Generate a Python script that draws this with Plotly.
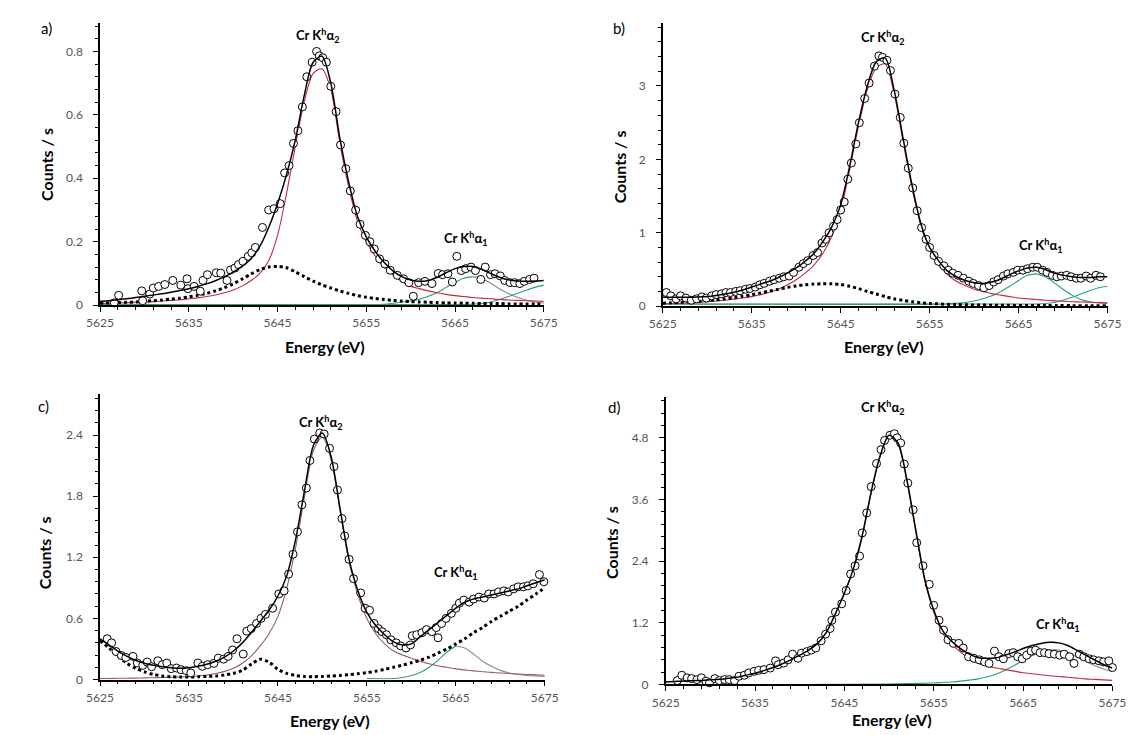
import plotly.graph_objects as go

W, H = 1134, 735
FONT = "Lato, 'Open Sans', sans-serif"

# ---------------- data: measured points (energy eV, counts/s) ----------------
a_points = [(5626.6, 0.007), (5627.1, 0.031), (5629.7, 0.045), (5629.8, 0.014), (5630.6, 0.035),
            (5631.0, 0.054), (5631.6, 0.059), (5632.3, 0.065), (5633.2, 0.078), (5634.1, 0.063),
            (5634.8, 0.083), (5634.9, 0.052), (5635.6, 0.059), (5636.3, 0.044), (5636.6, 0.078),
            (5637.1, 0.096), (5638.1, 0.102), (5638.6, 0.101), (5639.3, 0.078), (5639.7, 0.111),
            (5640.2, 0.117), (5640.6, 0.128), (5641.1, 0.138), (5641.7, 0.154), (5642.1, 0.165),
            (5642.5, 0.182), (5643.3, 0.245), (5644.0, 0.300), (5644.6, 0.304), (5645.3, 0.320),
            (5645.8, 0.417), (5646.3, 0.440), (5646.8, 0.510), (5647.3, 0.550), (5647.8, 0.625),
            (5648.3, 0.720), (5648.9, 0.766), (5649.4, 0.800), (5649.7, 0.786), (5650.1, 0.780),
            (5650.5, 0.766), (5651.0, 0.690), (5651.6, 0.610), (5652.1, 0.505), (5652.7, 0.430),
            (5653.2, 0.360), (5653.8, 0.300), (5654.3, 0.255), (5654.9, 0.220), (5655.4, 0.200),
            (5655.9, 0.177), (5656.5, 0.146), (5657.1, 0.130), (5657.7, 0.110), (5658.5, 0.094),
            (5659.2, 0.083), (5659.8, 0.071), (5660.3, 0.028), (5660.9, 0.071), (5661.6, 0.075),
            (5662.4, 0.068), (5663.1, 0.100), (5663.6, 0.096), (5664.2, 0.099), (5664.7, 0.073),
            (5665.2, 0.154), (5665.7, 0.109), (5666.2, 0.115), (5666.8, 0.120), (5667.3, 0.109),
            (5667.9, 0.081), (5668.4, 0.120), (5669.0, 0.096), (5669.5, 0.099), (5670.1, 0.092),
            (5670.6, 0.078), (5671.2, 0.071), (5671.7, 0.071), (5672.3, 0.068), (5672.8, 0.075),
            (5673.4, 0.081), (5673.9, 0.085)]

b_points = [(5625.4, 0.185), (5625.9, 0.14), (5626.5, 0.10), (5627.0, 0.14), (5627.6, 0.11),
            (5628.2, 0.08), (5628.8, 0.10), (5629.4, 0.126), (5629.9, 0.11), (5630.5, 0.14),
            (5631.0, 0.158), (5631.6, 0.167), (5632.1, 0.185), (5632.6, 0.185), (5633.2, 0.20),
            (5633.7, 0.21), (5634.3, 0.23), (5634.8, 0.24), (5635.4, 0.26), (5635.9, 0.29),
            (5636.4, 0.31), (5637.0, 0.34), (5637.5, 0.36), (5638.1, 0.38), (5638.6, 0.40),
            (5639.2, 0.41), (5639.7, 0.46), (5640.3, 0.53), (5640.8, 0.58), (5641.3, 0.62),
            (5641.9, 0.69), (5642.4, 0.73), (5642.9, 0.86), (5643.3, 0.91), (5643.7, 1.00),
            (5644.2, 1.09), (5644.6, 1.18), (5645.0, 1.31), (5645.4, 1.42), (5645.8, 1.73),
            (5646.2, 1.95), (5646.7, 2.21), (5647.1, 2.50), (5647.7, 2.83), (5648.2, 3.04),
            (5648.8, 3.27), (5649.3, 3.41), (5649.7, 3.39), (5650.2, 3.35), (5650.6, 3.21),
            (5651.1, 2.89), (5651.7, 2.57), (5652.1, 2.22), (5652.6, 1.88), (5653.1, 1.61),
            (5653.6, 1.30), (5654.1, 1.07), (5654.6, 0.91), (5655.0, 0.80), (5655.5, 0.69),
            (5656.0, 0.61), (5656.6, 0.55), (5657.1, 0.49), (5657.6, 0.45), (5658.2, 0.42),
            (5658.8, 0.38), (5659.4, 0.34), (5659.9, 0.31), (5660.5, 0.28), (5661.1, 0.25),
            (5661.7, 0.28), (5662.2, 0.33), (5662.7, 0.36), (5663.3, 0.41), (5663.8, 0.44),
            (5664.4, 0.46), (5664.9, 0.49), (5665.5, 0.49), (5666.0, 0.51), (5666.6, 0.53),
            (5667.1, 0.53), (5667.7, 0.49), (5668.2, 0.46), (5668.8, 0.42), (5669.3, 0.40),
            (5669.8, 0.41), (5670.4, 0.42), (5670.9, 0.40), (5671.5, 0.38), (5672.0, 0.38),
            (5672.6, 0.41), (5673.1, 0.38), (5673.7, 0.42), (5674.2, 0.40)]

c_points = [(5625.8, 0.40), (5626.3, 0.36), (5626.8, 0.275), (5627.4, 0.236), (5627.9, 0.217),
            (5628.7, 0.227), (5629.2, 0.162), (5629.8, 0.139), (5630.3, 0.172), (5630.8, 0.126),
            (5631.5, 0.184), (5632.0, 0.146), (5632.5, 0.162), (5633.0, 0.107), (5633.6, 0.113),
            (5634.1, 0.097), (5634.7, 0.087), (5635.2, 0.065), (5636.0, 0.162), (5636.5, 0.13),
            (5637.1, 0.146), (5637.8, 0.159), (5638.3, 0.21), (5638.9, 0.20), (5639.4, 0.227),
            (5639.9, 0.29), (5640.4, 0.40), (5641.1, 0.25), (5641.5, 0.475), (5642.0, 0.50),
            (5642.6, 0.55), (5643.1, 0.60), (5643.6, 0.64), (5644.4, 0.70), (5645.1, 0.84),
            (5645.7, 0.87), (5646.2, 1.035), (5646.7, 1.23), (5647.2, 1.45), (5647.7, 1.715),
            (5648.2, 1.88), (5648.6, 2.15), (5649.1, 2.36), (5649.7, 2.42), (5650.2, 2.41),
            (5650.8, 2.27), (5651.3, 2.09), (5651.7, 1.86), (5652.2, 1.58), (5652.5, 1.41),
            (5653.0, 1.18), (5653.5, 0.99), (5654.3, 0.85), (5654.8, 0.70), (5655.3, 0.68),
            (5655.8, 0.55), (5656.3, 0.50), (5656.7, 0.47), (5657.2, 0.44), (5657.7, 0.39),
            (5658.3, 0.36), (5658.8, 0.33), (5659.4, 0.31), (5659.9, 0.34), (5660.1, 0.43),
            (5660.6, 0.44), (5661.2, 0.46), (5661.7, 0.49), (5662.3, 0.47), (5662.8, 0.51),
            (5663.0, 0.41), (5663.4, 0.55), (5663.9, 0.60), (5664.5, 0.65), (5665.0, 0.70),
            (5665.4, 0.75), (5665.9, 0.78), (5666.5, 0.76), (5667.0, 0.79), (5667.6, 0.81),
            (5668.2, 0.80), (5668.7, 0.84), (5669.3, 0.84), (5669.8, 0.86), (5670.4, 0.87),
            (5670.9, 0.86), (5671.5, 0.89), (5672.0, 0.91), (5672.6, 0.91), (5673.1, 0.92),
            (5673.7, 0.94), (5674.4, 1.03), (5674.9, 0.96)]

d_points = [(5626.3, 0.077), (5626.8, 0.18), (5627.4, 0.13), (5627.9, 0.115), (5628.5, 0.096),
            (5629.0, 0.13), (5629.5, 0.064), (5629.9, 0.032), (5630.5, 0.115), (5631.0, 0.077),
            (5631.6, 0.096), (5632.1, 0.096), (5632.7, 0.077), (5633.2, 0.16), (5633.8, 0.18),
            (5634.3, 0.225), (5634.9, 0.257), (5635.4, 0.276), (5636.0, 0.289), (5636.7, 0.32),
            (5637.3, 0.46), (5637.6, 0.385), (5638.2, 0.417), (5638.7, 0.48), (5639.2, 0.59),
            (5639.8, 0.51), (5640.2, 0.61), (5640.8, 0.64), (5641.3, 0.67), (5641.8, 0.71),
            (5642.4, 0.85), (5642.9, 0.98), (5643.4, 1.09), (5643.6, 1.25), (5644.0, 1.41),
            (5644.7, 1.57), (5645.2, 1.83), (5645.7, 2.15), (5646.2, 2.31), (5646.7, 2.50),
            (5647.0, 2.95), (5647.5, 3.34), (5648.0, 3.85), (5648.6, 4.30), (5649.1, 4.57),
            (5649.5, 4.75), (5650.1, 4.85), (5650.6, 4.88), (5650.9, 4.80), (5651.3, 4.70),
            (5651.7, 4.29), (5652.1, 3.92), (5652.7, 3.40), (5653.1, 2.76), (5653.8, 2.31),
            (5654.5, 1.95), (5655.0, 1.54), (5655.6, 1.25), (5656.1, 1.06), (5656.6, 0.87),
            (5657.2, 0.80), (5657.8, 0.80), (5658.3, 0.71), (5658.9, 0.54), (5659.5, 0.51),
            (5660.1, 0.48), (5660.7, 0.44), (5661.2, 0.41), (5661.8, 0.65), (5662.3, 0.54),
            (5662.8, 0.50), (5663.4, 0.60), (5663.9, 0.62), (5664.4, 0.54), (5664.9, 0.50),
            (5665.4, 0.57), (5665.9, 0.65), (5666.4, 0.67), (5666.9, 0.62), (5667.4, 0.62),
            (5667.9, 0.60), (5668.5, 0.59), (5669.1, 0.57), (5669.6, 0.59), (5670.2, 0.54),
            (5670.7, 0.41), (5671.3, 0.59), (5671.8, 0.54), (5672.4, 0.50), (5672.9, 0.48),
            (5673.5, 0.46), (5674.0, 0.44), (5674.6, 0.46), (5675.0, 0.33)]

# ---------------- fitted curves, read on a 1 eV grid ----------------
grid = list(range(5625, 5676))

a_total = [0.012, 0.014, 0.017, 0.020, 0.024, 0.028, 0.032, 0.036, 0.041, 0.046,
           0.052, 0.059, 0.067, 0.077, 0.089, 0.104, 0.122, 0.146, 0.185, 0.245,
           0.320, 0.410, 0.520, 0.660, 0.765, 0.785, 0.700, 0.530, 0.390, 0.280,
           0.215, 0.170, 0.135, 0.108, 0.090, 0.079, 0.075, 0.078, 0.088, 0.102,
           0.115, 0.122, 0.122, 0.113, 0.100, 0.088, 0.080, 0.076, 0.075, 0.076, 0.078]
a_main = [0.005, 0.006, 0.007, 0.008, 0.009, 0.010, 0.011, 0.013, 0.015, 0.017,
          0.020, 0.023, 0.027, 0.032, 0.039, 0.048, 0.060, 0.077, 0.100, 0.140,
          0.220, 0.350, 0.500, 0.640, 0.730, 0.745, 0.680, 0.515, 0.375, 0.265,
          0.200, 0.155, 0.120, 0.095, 0.075, 0.060, 0.052, 0.045, 0.039, 0.034,
          0.030, 0.027, 0.024, 0.022, 0.020, 0.018, 0.016, 0.015, 0.014, 0.013, 0.012]
a_sat = [0.006, 0.007, 0.008, 0.009, 0.010, 0.012, 0.014, 0.016, 0.019, 0.022,
         0.026, 0.031, 0.037, 0.045, 0.055, 0.067, 0.082, 0.098, 0.112, 0.120,
         0.122, 0.118, 0.105, 0.090, 0.076, 0.064, 0.054, 0.045, 0.037, 0.030,
         0.025, 0.021, 0.018, 0.015, 0.013, 0.011, 0.010, 0.009, 0.008, 0.007,
         0.007, 0.006, 0.006, 0.005, 0.005, 0.005, 0.004, 0.004, 0.004, 0.004, 0.004]
a_k1_x = [5625, 5657, 5658, 5659, 5660, 5661, 5662, 5663, 5664, 5665, 5666, 5667,
          5668, 5669, 5670, 5671, 5672, 5673, 5674, 5675]
a_k1_y = [0.003, 0.003, 0.006, 0.009, 0.013, 0.019, 0.028, 0.040, 0.056, 0.072, 0.085, 0.090,
          0.084, 0.069, 0.052, 0.037, 0.025, 0.016, 0.010, 0.007]
a_k2_x = [5625, 5667, 5668, 5669, 5670, 5671, 5672, 5673, 5674, 5675]
a_k2_y = [0.003, 0.003, 0.005, 0.010, 0.018, 0.027, 0.037, 0.047, 0.056, 0.063]

b_total = [0.12, 0.12, 0.12, 0.12, 0.125, 0.13, 0.145, 0.165, 0.19, 0.22,
           0.26, 0.30, 0.34, 0.39, 0.45, 0.52, 0.61, 0.72, 0.88, 1.08,
           1.38, 1.90, 2.50, 3.00, 3.33, 3.38, 2.95, 2.30, 1.66, 1.13,
           0.80, 0.62, 0.48, 0.40, 0.35, 0.32, 0.31, 0.33, 0.37, 0.43,
           0.48, 0.52, 0.53, 0.50, 0.45, 0.42, 0.40, 0.39, 0.39, 0.40, 0.40]
b_main = [0.03, 0.035, 0.04, 0.045, 0.05, 0.06, 0.07, 0.08, 0.095, 0.11,
          0.13, 0.155, 0.19, 0.23, 0.29, 0.36, 0.45, 0.56, 0.72, 0.95,
          1.30, 1.85, 2.45, 2.95, 3.25, 3.30, 2.90, 2.25, 1.62, 1.10,
          0.76, 0.56, 0.43, 0.34, 0.28, 0.23, 0.20, 0.17, 0.15, 0.13,
          0.11, 0.10, 0.09, 0.08, 0.072, 0.066, 0.06, 0.056, 0.052, 0.048, 0.045]
b_sat_x = [5625, 5626, 5627, 5628, 5629, 5630, 5631, 5632, 5633, 5634,
           5635, 5636, 5637, 5638, 5639, 5640, 5641, 5642, 5643, 5644,
           5645, 5646, 5647, 5648, 5649, 5650, 5651, 5652, 5653, 5654,
           5655, 5658, 5662, 5668, 5675]
b_sat_y = [0.04, 0.045, 0.05, 0.057, 0.065, 0.075, 0.087, 0.10, 0.115, 0.135,
           0.155, 0.18, 0.205, 0.23, 0.255, 0.275, 0.29, 0.30, 0.305, 0.305,
           0.295, 0.27, 0.24, 0.20, 0.165, 0.13, 0.10, 0.078, 0.06, 0.047,
           0.037, 0.021, 0.013, 0.008, 0.006]
b_k1_x = [5625, 5657, 5658, 5659, 5660, 5661, 5662, 5663, 5664, 5665, 5666, 5667,
          5668, 5669, 5670, 5671, 5672, 5673, 5674, 5675]
b_k1_y = [0.03, 0.03, 0.04, 0.05, 0.07, 0.10, 0.14, 0.20, 0.27, 0.35, 0.42, 0.44,
          0.40, 0.32, 0.23, 0.15, 0.09, 0.06, 0.045, 0.035]
b_k2_x = [5625, 5667, 5668, 5669, 5670, 5671, 5672, 5673, 5674, 5675]
b_k2_y = [0.03, 0.03, 0.035, 0.05, 0.08, 0.12, 0.165, 0.21, 0.25, 0.27]

c_total = [0.40, 0.34, 0.28, 0.23, 0.19, 0.16, 0.14, 0.125, 0.115, 0.11,
           0.115, 0.13, 0.15, 0.18, 0.22, 0.28, 0.36, 0.46, 0.57, 0.68,
           0.82, 1.02, 1.38, 1.86, 2.30, 2.42, 2.18, 1.67, 1.18, 0.87,
           0.66, 0.53, 0.44, 0.37, 0.34, 0.35, 0.42, 0.49, 0.56, 0.63,
           0.70, 0.76, 0.79, 0.81, 0.83, 0.85, 0.87, 0.89, 0.92, 0.95, 0.98]
c_main = [0.01, 0.011, 0.012, 0.013, 0.014, 0.016, 0.018, 0.02, 0.023, 0.026,
          0.03, 0.035, 0.045, 0.06, 0.08, 0.11, 0.16, 0.23, 0.33, 0.45,
          0.62, 0.90, 1.30, 1.80, 2.25, 2.38, 2.15, 1.65, 1.15, 0.83,
          0.60, 0.45, 0.35, 0.28, 0.24, 0.21, 0.18, 0.155, 0.135, 0.12,
          0.105, 0.095, 0.085, 0.077, 0.07, 0.065, 0.06, 0.055, 0.05, 0.046, 0.042]
c_sat = [0.38, 0.31, 0.23, 0.16, 0.11, 0.075, 0.05, 0.035, 0.028, 0.025,
         0.025, 0.027, 0.03, 0.035, 0.045, 0.06, 0.09, 0.15, 0.20, 0.17,
         0.10, 0.06, 0.04, 0.03, 0.028, 0.03, 0.035, 0.04, 0.048, 0.057,
         0.068, 0.082, 0.10, 0.12, 0.14, 0.165, 0.19, 0.22, 0.26, 0.30,
         0.35, 0.40, 0.46, 0.51, 0.57, 0.62, 0.67, 0.72, 0.78, 0.84, 0.90]
c_k1_x = [5655, 5658, 5659, 5660, 5661, 5662, 5663, 5664, 5665, 5666, 5667, 5668,
          5669, 5670, 5671, 5672, 5673, 5674, 5675]
c_k1_y = [0.01, 0.01, 0.02, 0.04, 0.07, 0.12, 0.19, 0.27, 0.33, 0.31, 0.25, 0.18,
          0.13, 0.09, 0.065, 0.05, 0.04, 0.035, 0.03]

d_total = [0.05, 0.06, 0.07, 0.075, 0.08, 0.09, 0.10, 0.12, 0.14, 0.18,
           0.22, 0.27, 0.33, 0.40, 0.48, 0.57, 0.67, 0.80, 1.02, 1.38,
           1.78, 2.25, 2.90, 3.75, 4.45, 4.85, 4.70, 3.98, 3.00, 2.05,
           1.45, 1.05, 0.84, 0.70, 0.59, 0.52, 0.51, 0.52, 0.57, 0.63,
           0.70, 0.76, 0.80, 0.82, 0.81, 0.76, 0.67, 0.57, 0.48, 0.39, 0.32]
d_main_x = [5640, 5641, 5642, 5643, 5644, 5645, 5646, 5647, 5648, 5649,
            5650, 5651, 5652, 5653, 5654, 5655, 5656, 5657, 5658, 5659,
            5660, 5661, 5662, 5663, 5664, 5665, 5666, 5667, 5668, 5669,
            5670, 5671, 5672, 5673, 5674, 5675]
d_main_y = [0.55, 0.65, 0.78, 1.00, 1.36, 1.76, 2.23, 2.88, 3.73, 4.43,
            4.83, 4.68, 3.95, 2.97, 2.02, 1.41, 1.00, 0.79, 0.63, 0.50,
            0.41, 0.36, 0.32, 0.29, 0.26, 0.23, 0.21, 0.19, 0.17, 0.155,
            0.14, 0.125, 0.11, 0.10, 0.09, 0.08]
d_k1_x = [5640, 5650, 5655, 5656, 5657, 5658, 5659, 5660, 5661, 5662, 5663, 5664,
          5665, 5666, 5667, 5668, 5669, 5670, 5671, 5672, 5673, 5674, 5675]
d_k1_y = [0.0, 0.01, 0.03, 0.04, 0.05, 0.065, 0.085, 0.11, 0.15, 0.20, 0.28, 0.37,
          0.47, 0.56, 0.63, 0.67, 0.67, 0.62, 0.54, 0.45, 0.37, 0.30, 0.25]

x_ticks = [5625, 5635, 5645, 5655, 5665, 5675]
a_yticks = [0, 0.2, 0.4, 0.6, 0.8]
b_yticks = [0, 1, 2, 3]
c_yticks = [0, 0.6, 1.2, 1.8, 2.4]
d_yticks = [0, 1.2, 2.4, 3.6, 4.8]

# ---------------- styling ----------------
RED = "#c8283c"
GREEN = "#2e9e7a"
GRAY = "#8a8a8a"


def pxx(x):
    return x / W


def pyy(y):
    return 1 - y / H


fig = go.Figure()


def line(xs, ys, color, width, ax, dash="solid"):
    fig.add_trace(go.Scatter(x=xs, y=ys, mode="lines", xaxis="x" + ax, yaxis="y" + ax,
                             line=dict(color=color, width=width, dash=dash, shape="spline",
                                       smoothing=0.8),
                             showlegend=False, hoverinfo="skip"))


def split_k1(xs, ys, ax, both_green=False):
    ipk = ys.index(max(ys))
    line(xs[:ipk + 1], ys[:ipk + 1], GREEN, 1.1, ax)
    line(xs[ipk:], ys[ipk:], GREEN if both_green else GRAY, 1.1, ax)


def points(pts, ax):
    fig.add_trace(go.Scatter(x=[p[0] for p in pts], y=[p[1] for p in pts], mode="markers",
                             xaxis="x" + ax, yaxis="y" + ax, cliponaxis=False,
                             marker=dict(symbol="circle", size=8, color="white",
                                         line=dict(color="black", width=1)),
                             showlegend=False))


# panel a
split_k1(a_k1_x, a_k1_y, "")
line(a_k2_x, a_k2_y, GREEN, 1.1, "")
line(grid, a_main, RED, 1.1, "")
line(grid, a_sat, "black", 3, "", dash="dot")
points(a_points, "")
line(grid, a_total, "black", 1.5, "")

# panel b
split_k1(b_k1_x, b_k1_y, "2", both_green=True)
line(b_k2_x, b_k2_y, GREEN, 1.1, "2")
line(grid, b_main, RED, 1.1, "2")
line(b_sat_x, b_sat_y, "black", 3, "2", dash="dot")
points(b_points, "2")
line(grid, b_total, "black", 1.5, "2")

# panel c
split_k1(c_k1_x, c_k1_y, "3")
line(grid, c_main, "#9a5a60", 1.1, "3")
line(grid, c_sat, "black", 3, "3", dash="dot")
points(c_points, "3")
line(grid, c_total, "black", 1.5, "3")

# panel d
split_k1(d_k1_x, d_k1_y, "4")
line(d_main_x, d_main_y, RED, 1.1, "4")
points(d_points, "4")
line(grid, d_total, "black", 1.5, "4")

# ---------------- axes ----------------
panels = [
    # (suffix, x px domain, y px domain (top,bottom), ymax, yticks, minor dtick)
    ("", (80, 535), (15, 300), 0.89, a_yticks, 0.04),
    ("2", (657, 1113), (15, 301), 3.86, b_yticks, 0.2),
    ("3", (80, 536), (390, 678), 2.8, c_yticks, 0.12),
    ("4", (660, 1118), (393, 683), 5.59, d_yticks, 0.24),
]

layout = dict(width=W, height=H, margin=dict(l=0, r=0, t=0, b=0),
              paper_bgcolor="white", plot_bgcolor="white",
              font=dict(family=FONT, color="black"), showlegend=False)

for suf, (x0, x1), (yt, yb), ymax, yt_vals, ymin_dt in panels:
    layout["xaxis" + suf] = dict(
        domain=[pxx(x0), pxx(x1)], range=[5625, 5675], anchor="y" + suf,
        tickmode="array", tickvals=x_ticks, ticktext=[str(v) for v in x_ticks],
        ticks="outside", ticklen=5, tickwidth=1, tickcolor="black",
        showline=True, linecolor="black", linewidth=1.5,
        showgrid=False, zeroline=False,
        tickfont=dict(size=12, color="#555555", family=FONT),
        minor=dict(dtick=2, tick0=5625, ticks="outside", ticklen=3, tickcolor="black",
                   showgrid=False),
        ticklabelstandoff=1,
    )
    layout["yaxis" + suf] = dict(
        domain=[pyy(yb), pyy(yt)], range=[0, ymax], anchor="x" + suf,
        tickmode="array", tickvals=yt_vals,
        ticktext=["0" if v == 0 else (str(v)) for v in yt_vals],
        ticks="outside", ticklen=5, tickwidth=1, tickcolor="black",
        showline=True, linecolor="black", linewidth=1.5,
        showgrid=False, zeroline=False,
        tickfont=dict(size=12, color="#555555", family=FONT),
        minor=dict(dtick=ymin_dt, tick0=0, ticks="outside", ticklen=3, tickcolor="black",
                   showgrid=False),
        ticklabelstandoff=8,
    )

# ---------------- annotations ----------------
ann = []


def text(x, y, s, size, bold=False, angle=0):
    ann.append(dict(x=pxx(x), y=pyy(y), xref="paper", yref="paper", text=s,
                    showarrow=False, xanchor="center", yanchor="middle", textangle=angle,
                    font=dict(size=size, family=FONT, color="black",
                              weight="bold" if bold else "normal")))


K2 = "Cr K<sup>h</sup>α<sub>2</sub>"
K1 = "Cr K<sup>h</sup>α<sub>1</sub>"

text(25, 20, "a)", 15)
text(612, 20, "b)", 15)
text(22, 402, "c)", 15)
text(607, 403, "d)", 15)

text(303, 28, K2, 13, True)
text(883, 30, K2, 13, True)
text(307, 418, K2, 13, True)
text(883, 403, K2, 13, True)

text(455, 233, K1, 13, True)
text(1045, 240, K1, 13, True)
text(445, 570, K1, 13, True)
text(1062, 622, K1, 13, True)

for (x, y) in [(25, 158), (613, 160), (23, 550), (605, 540)]:
    text(x, y, "Counts / s", 16, True, angle=-90)
for (x, y) in [(311, 342), (884, 342), (316, 719), (892, 718)]:
    text(x, y, "Energy (eV)", 16, True)

layout["annotations"] = ann
fig.update_layout(**layout)
fig.write_html("out.html")
